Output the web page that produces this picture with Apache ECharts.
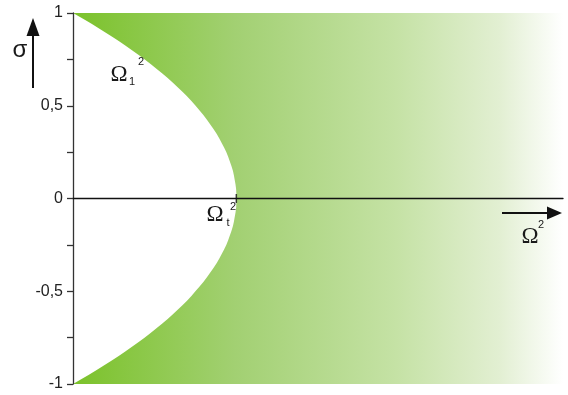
<!DOCTYPE html>
<html>
<head>
<meta charset="utf-8">
<script src="https://cdn.jsdelivr.net/npm/echarts@6/dist/echarts.min.js"></script>
<style>
  html, body { margin: 0; padding: 0; background: #fff; }
  #chart { width: 568px; height: 395px; }
</style>
</head>
<body>
<div id="chart"></div>
<script>
// σ values along the stability boundary (top to bottom)
const sigmaValues = [1, 0.95, 0.9, 0.85, 0.8, 0.75, 0.7, 0.65, 0.6, 0.55, 0.5, 0.45, 0.4, 0.35, 0.3, 0.25, 0.2, 0.15, 0.1, 0.05, 0,
  -0.05, -0.1, -0.15, -0.2, -0.25, -0.3, -0.35, -0.4, -0.45, -0.5, -0.55, -0.6, -0.65, -0.7, -0.75, -0.8, -0.85, -0.9, -0.95, -1];
// Ω₁² boundary (in units of Ω_t²) for each σ above
const omega1Values = [0, 0.10, 0.19, 0.28, 0.36, 0.44, 0.51, 0.58, 0.64, 0.70, 0.75, 0.80, 0.84, 0.88, 0.91, 0.94, 0.96, 0.98, 0.99, 1.00, 1.00,
  1.00, 0.99, 0.98, 0.96, 0.94, 0.91, 0.88, 0.84, 0.80, 0.75, 0.70, 0.64, 0.58, 0.51, 0.44, 0.36, 0.28, 0.19, 0.10, 0];
// Ω_t² marker on the horizontal axis
const omegaT = 1;
// Horizontal extent of the Ω² axis
const omegaMax = 3;
// σ axis labels (ticks every 0.25, labels every 0.5)
const sigmaLabelValues = [-1, -0.5, 0, 0.5, 1];
const sigmaLabels = ['-1', '-0,5', '0', '0,5', '1'];

const chart = echarts.init(document.getElementById('chart'), null, { renderer: 'canvas' });

const regionFill = new echarts.graphic.LinearGradient(0, 0, 1, 0, [
  { offset: 0, color: '#7bc22a' },
  { offset: 0.33, color: '#a2d072' },
  { offset: 0.66, color: '#c5e2a5' },
  { offset: 0.87, color: '#e2efd2' },
  { offset: 1, color: '#ffffff' }
]);

const labelFor = v => {
  const i = sigmaLabelValues.indexOf(v);
  return i >= 0 ? sigmaLabels[i] : '';
};

const serif = '"Liberation Serif", "DejaVu Serif", serif';
const sans = '"Liberation Sans", Arial, sans-serif';

// Smooth closed outline: boundary curve (quadratic through midpoints), then the right edge
function regionPath(pts, corners) {
  let d = 'M' + pts[0][0] + ' ' + pts[0][1];
  for (let i = 1; i < pts.length - 1; i++) {
    const mx = (pts[i][0] + pts[i + 1][0]) / 2;
    const my = (pts[i][1] + pts[i + 1][1]) / 2;
    d += ' Q' + pts[i][0] + ' ' + pts[i][1] + ' ' + mx + ' ' + my;
  }
  const last = pts[pts.length - 1];
  d += ' L' + last[0] + ' ' + last[1];
  corners.forEach(c => { d += ' L' + c[0] + ' ' + c[1]; });
  return d + ' Z';
}

const txt = (x, y, text, font) => ({
  type: 'text', x, y, z: 100,
  style: { text, font, fill: '#1a1a1a', align: 'center', verticalAlign: 'middle' }
});

chart.setOption({
  animation: false,
  grid: { left: 73, right: 5, top: 13, bottom: 11, containLabel: false },
  xAxis: {
    type: 'value', min: 0, max: omegaMax, z: 10,
    axisLine: { onZero: true, lineStyle: { color: '#111', width: 1.3 } },
    axisTick: { show: false }, axisLabel: { show: false }, splitLine: { show: false }
  },
  yAxis: {
    type: 'value', min: -1, max: 1, interval: 0.25, z: 10,
    axisLine: { show: true, lineStyle: { color: '#333', width: 1.3 } },
    axisTick: { show: true, length: 6, lineStyle: { color: '#333', width: 1.3 } },
    axisLabel: {
      margin: 10, fontSize: 16, color: '#222', fontFamily: sans,
      formatter: v => labelFor(v)
    },
    splitLine: { show: false }
  },
  series: [
    {
      // region to the right of the Ω₁² boundary, filled with the fading green
      type: 'custom',
      coordinateSystem: 'cartesian2d',
      z: 1,
      data: [[0, 0]],
      renderItem: (params, api) => {
        const pts = sigmaValues.map((s, i) => api.coord([omega1Values[i], s]));
        const corners = [
          api.coord([omegaMax, sigmaValues[sigmaValues.length - 1]]),
          api.coord([omegaMax, sigmaValues[0]])
        ];
        return {
          type: 'path',
          shape: { pathData: regionPath(pts, corners) },
          style: { fill: regionFill, stroke: null }
        };
      }
    },
    {
      // tick mark at Ω_t² on the Ω² axis
      type: 'scatter',
      z: 12,
      symbol: 'rect',
      symbolSize: [1.5, 9],
      itemStyle: { color: '#111' },
      data: [[omegaT, 0]],
      silent: true
    }
  ],
  graphic: [
    // σ axis arrow
    { type: 'line', z: 100, shape: { x1: 33, y1: 88, x2: 33, y2: 32 }, style: { stroke: '#111', lineWidth: 2 } },
    { type: 'polygon', z: 100, shape: { points: [[33, 18], [26.5, 36], [39.5, 36]] }, style: { fill: '#111' } },
    txt(20, 50, 'σ', '24px ' + sans),
    // Ω² axis arrow
    { type: 'line', z: 100, shape: { x1: 502, y1: 213, x2: 550, y2: 213 }, style: { stroke: '#111', lineWidth: 2 } },
    { type: 'polygon', z: 100, shape: { points: [[562, 213], [547, 206.5], [547, 219.5]] }, style: { fill: '#111' } },
    txt(530, 237, 'Ω', '23px ' + serif),
    txt(541, 225, '2', '11px ' + sans),
    // Ω₁² label
    txt(119, 75, 'Ω', '23px ' + serif),
    txt(132, 82, '1', '11px ' + sans),
    txt(141, 62, '2', '11px ' + sans),
    // Ω_t² label
    txt(215, 215, 'Ω', '23px ' + serif),
    txt(228, 223, 't', '11px ' + sans),
    txt(233, 207, '2', '11px ' + sans)
  ]
});
</script>
</body>
</html>
